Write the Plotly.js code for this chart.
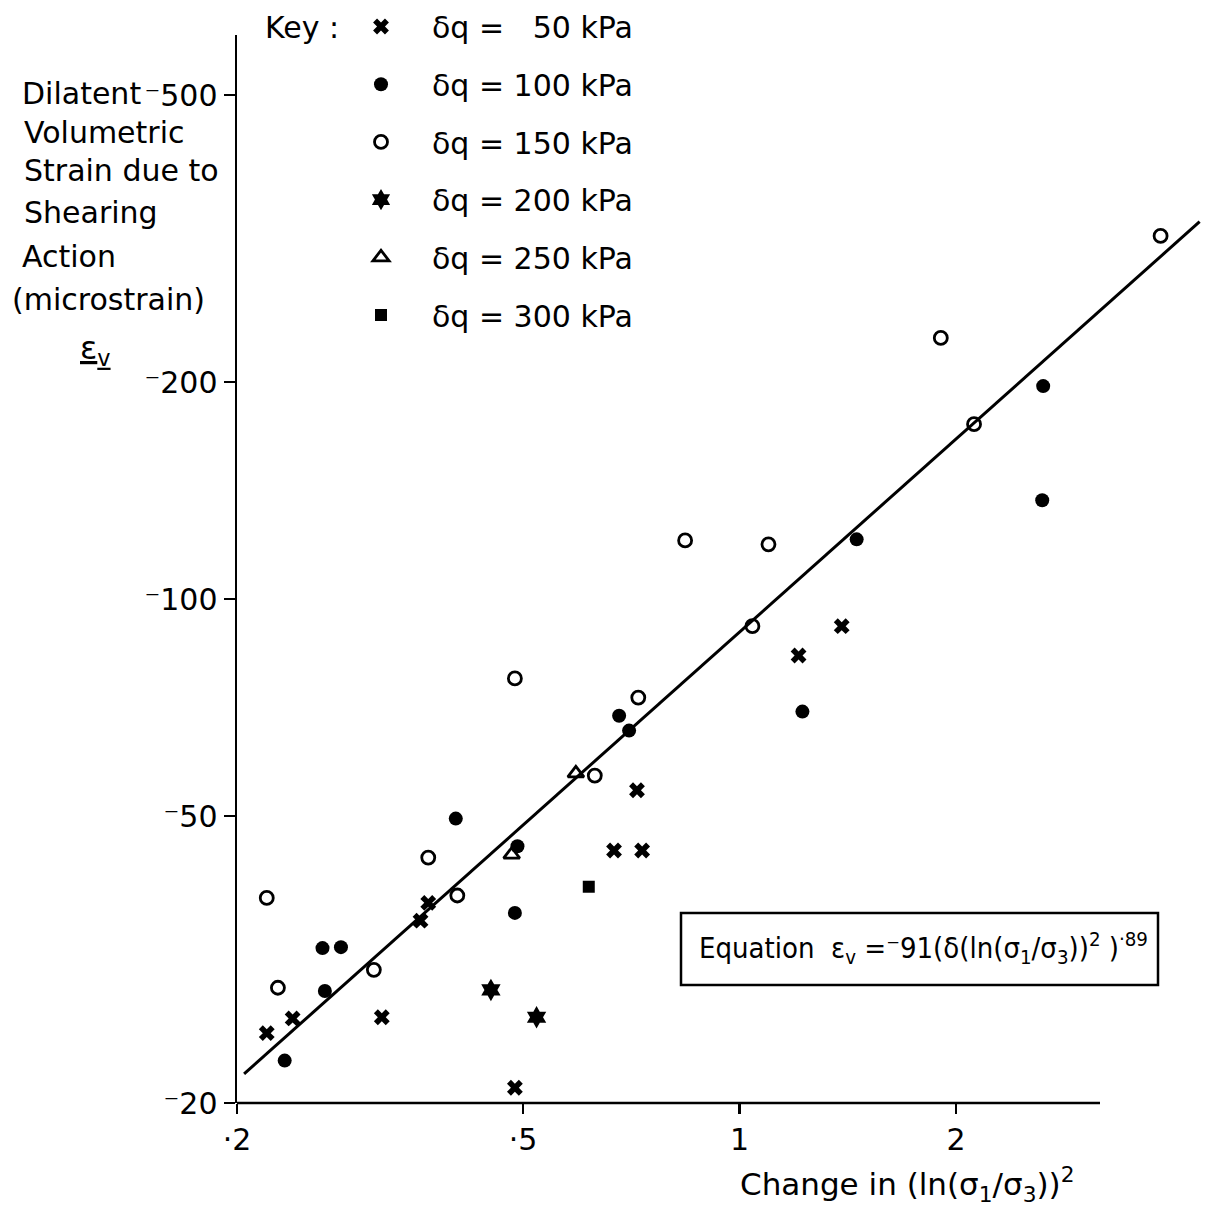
<!DOCTYPE html>
<html><head><meta charset="utf-8">
<script src="https://cdn.plot.ly/plotly-3.0.1.min.js"></script>
<style>body{margin:0;background:#fff}</style>
</head><body><div id="chart" style="width:1217px;height:1211px"></div>
<script>
// ---- data ----
const q50X  = [0.220, 0.239, 0.318, 0.360, 0.369, 0.487, 0.669, 0.732, 0.720, 1.208, 1.387];
const q50Y  = [25.0, 26.2, 26.3, 35.8, 37.9, 21.0, 44.8, 44.8, 54.3, 83.5, 91.7];
const q100X = [0.233, 0.263, 0.279, 0.265, 0.403, 0.487, 0.491, 0.680, 0.702, 1.223, 1.455, 2.644, 2.636];
const q100Y = [22.9, 32.8, 32.9, 28.6, 49.6, 36.7, 45.4, 68.9, 65.7, 69.8, 121.0, 197.4, 137.1];
const q150X = [0.220, 0.228, 0.310, 0.369, 0.405, 0.487, 0.629, 0.723, 0.840, 1.097, 1.042, 1.905, 2.119, 3.851];
const q150Y = [38.5, 28.9, 30.6, 43.8, 38.8, 77.6, 56.9, 73.0, 120.6, 119.1, 91.7, 230.2, 174.8, 318.9];
const q200X = [0.451, 0.522];
const q200Y = [28.7, 26.3];
const q250X = [0.482, 0.592];
const q250Y = [44.2, 57.3];
const q300X = [0.617];
const q300Y = [39.9];
const fitX = [0.2046, 4.364];
const fitY = [21.95, 333.7];
const seriesNames = ['δq = \u200750 kPa', 'δq = 100 kPa', 'δq = 150 kPa', 'δq = 200 kPa', 'δq = 250 kPa', 'δq = 300 kPa'];
const xTickVals = [0.2, 0.5, 1, 2];
const xTickText = ['·2', '·5', '1', '2'];
const yTickVals = [20, 50, 100, 200, 500];
const yTickText = ['⁻20', '⁻50', '⁻100', '⁻200', '⁻500'];

// ---- layout geometry ----
const W = 1217, H = 1211;
const L = 237, R = 1205, T = 35, B = 1103;
const px2x = px => (px - L) / (R - L);
const py2y = py => (B - py) / (B - T);
const FONT = 'DejaVu Sans';

const mk = (x, y, name, marker, g) => ({
  type: 'scatter', mode: 'markers', x, y, name, legendgroup: g,
  marker: Object.assign({color: 'black'}, marker), cliponaxis: false
});

const data = [
  mk(q50X, q50Y, seriesNames[0], {symbol: 'x', size: 14, line: {width: 0}}, 'a'),
  mk(q100X, q100Y, seriesNames[1], {symbol: 'circle', size: 14, line: {width: 0}}, 'b'),
  mk(q150X, q150Y, seriesNames[2], {symbol: 'circle-open', size: 13, line: {width: 2.8, color: 'black'}}, 'c'),
  mk(q200X, q200Y, seriesNames[3], {symbol: 'hexagram', size: 17, line: {width: 0}}, 'd'),
  mk(q250X, q250Y, seriesNames[4], {symbol: 'triangle-up-open', size: 14, line: {width: 2.8, color: 'black'}}, 'e'),
  mk(q300X, q300Y, seriesNames[5], {symbol: 'square', size: 12, line: {width: 0}}, 'f'),
  {type: 'scatter', mode: 'lines', x: fitX, y: fitY, showlegend: false,
   line: {color: 'black', width: 3}}
];

const yl = [
  ['Dilatent', 20, 94], ['Volumetric', 22, 132], ['Strain due to', 22, 171],
  ['Shearing', 22, 212], ['Action', 20, 257], ['(microstrain)', 10, 299]
];
const annotations = yl.map(([t, px, py]) => ({
  xref: 'paper', yref: 'paper', x: px2x(px), y: py2y(py), xanchor: 'left', yanchor: 'middle',
  text: t, showarrow: false, font: {family: FONT, size: 30, color: 'black'}
}));
annotations.push({xref: 'paper', yref: 'paper', x: px2x(95), y: py2y(350), xanchor: 'center', yanchor: 'middle',
  text: '<u>ε<sub>v</sub></u>', showarrow: false, font: {family: FONT, size: 32, color: 'black'}});
annotations.push({xref: 'paper', yref: 'paper', x: px2x(263), y: py2y(28), xanchor: 'left', yanchor: 'middle',
  text: 'Key :', showarrow: false, font: {family: FONT, size: 30, color: 'black'}});
annotations.push({xref: 'paper', yref: 'paper', x: px2x(738), y: py2y(1184), xanchor: 'left', yanchor: 'middle',
  text: 'Change in (ln(σ<sub>1</sub>/σ<sub>3</sub>))<sup>2</sup>', showarrow: false, font: {family: FONT, size: 31, color: 'black'}});
annotations.push({xref: 'paper', yref: 'paper', x: px2x(697), y: py2y(948), xanchor: 'left', yanchor: 'middle',
  text: 'Equation  ε<sub>v</sub> =⁻91(δ(ln(σ<sub>1</sub>/σ<sub>3</sub>))<sup>2</sup> )<sup>·89</sup>', showarrow: false,
  font: {family: 'DejaVu Sans Condensed, ' + FONT, size: 29, color: 'black'}});

const shapes = [
  {type: 'line', xref: 'paper', yref: 'paper', x0: 0, x1: px2x(1100), y0: 0, y1: 0, line: {color: 'black', width: 2.5}},
  {type: 'rect', xref: 'paper', yref: 'paper', x0: px2x(681), x1: px2x(1158), y0: py2y(985), y1: py2y(913),
   line: {color: 'black', width: 2.5}}
];

const layout = {
  width: W, height: H,
  margin: {l: L, r: W - R, t: T, b: H - B, pad: 0, autoexpand: false},
  paper_bgcolor: 'white', plot_bgcolor: 'white',
  font: {family: FONT, size: 30, color: 'black'},
  showlegend: true,
  legend: {x: px2x(330), y: 1 + (T - 0.5) / (B - T), xanchor: 'left', yanchor: 'top',
           itemwidth: 92, tracegroupgap: 15.7, font: {family: FONT, size: 30, color: 'black'},
           bgcolor: 'rgba(0,0,0,0)', borderwidth: 0},
  xaxis: {type: 'log', range: [Math.log10(0.2), Math.log10(0.2) + (R - L) / 719],
          showline: false, showgrid: false, zeroline: false,
          ticks: 'outside', ticklen: 10, tickwidth: 2.5, tickcolor: 'black',
          tickmode: 'array', tickvals: xTickVals, ticktext: xTickText,
          tickfont: {family: FONT, size: 30, color: 'black'}},
  yaxis: {type: 'log', range: [Math.log10(20), Math.log10(20) + (B - T) / 721],
          showline: true, linewidth: 2.5, linecolor: 'black', showgrid: false, zeroline: false,
          ticks: 'outside', ticklen: 11, tickwidth: 2.5, tickcolor: 'black',
          tickmode: 'array', tickvals: yTickVals, ticktext: yTickText,
          tickfont: {family: FONT, size: 30, color: 'black'}},
  annotations, shapes
};

Plotly.newPlot('chart', data, layout, {displayModeBar: false, staticPlot: true});
</script></body></html>
